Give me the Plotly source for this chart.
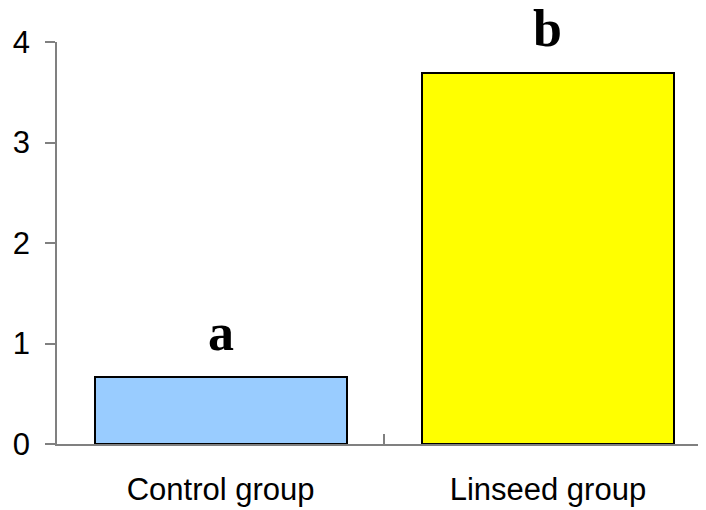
import plotly.graph_objects as go

categories = ["Control group", "Linseed group"]
values = [0.67, 3.69]
letters = ["a", "b"]
colors = ["#99CCFF", "#FFFF00"]
y_ticks = [0, 1, 2, 3, 4]

xpos = list(range(len(categories)))

fig = go.Figure()
fig.add_trace(go.Bar(
    x=xpos, y=values, width=0.77,
    marker=dict(color=colors, line=dict(color="black", width=2)),
    showlegend=False, hoverinfo="skip",
))
# invisible trace on separator axis
fig.add_trace(go.Scatter(x=[0.5], y=[0], xaxis="x2", mode="markers",
                         marker=dict(opacity=0), showlegend=False, hoverinfo="skip"))

for i, (v, t) in enumerate(zip(values, letters)):
    fig.add_annotation(x=i, y=v, text="<b>" + t + "</b>", showarrow=False, yanchor="bottom",
                       yshift=14, font=dict(family="Liberation Serif", size=52, color="black"))

xr = [-0.5, 1.483]
fig.update_layout(
    width=698, height=502,
    margin=dict(l=49, r=0, t=34, b=66),
    plot_bgcolor="white", paper_bgcolor="white",
    font=dict(family="Liberation Sans, Arial", size=31, color="black"),
    xaxis=dict(range=xr, tickvals=xpos, ticktext=categories, ticks="",
               showline=True, linecolor="#808080", linewidth=1.5, showgrid=False,
               zeroline=False, tickfont=dict(size=31), ticklabelstandoff=17,
               automargin=False),
    xaxis2=dict(range=xr, overlaying="x", anchor="y", side="bottom",
                tickvals=[0.5], ticktext=[""], ticks="inside", ticklen=10,
                tickcolor="#808080", tickwidth=1.5, showline=False, showgrid=False,
                zeroline=False, automargin=False),
    yaxis=dict(range=[0, 4], tickvals=y_ticks, ticks="outside", ticklen=10,
               tickcolor="#808080", tickwidth=1.5, showline=True,
               linecolor="#808080", linewidth=1.5, showgrid=False, zeroline=False,
               tickfont=dict(size=31), ticklabelstandoff=9, automargin=False),
    bargap=0,
)
fig.write_html("out.html")
